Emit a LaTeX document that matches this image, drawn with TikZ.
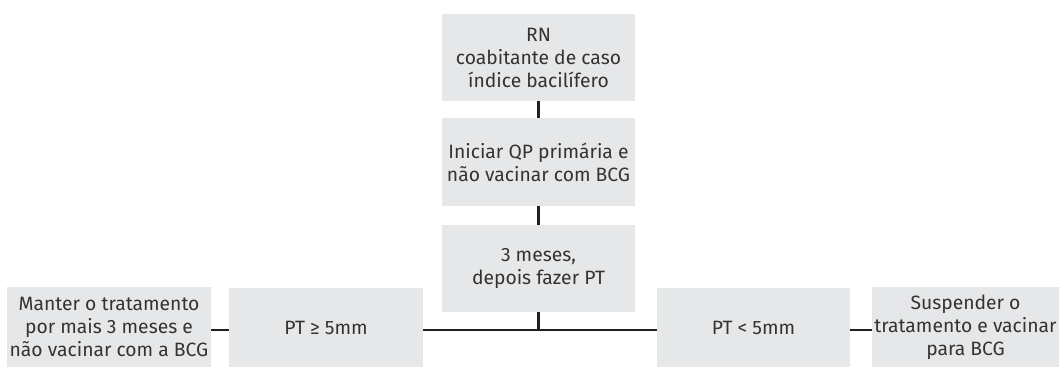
\documentclass[tikz,border=0pt]{standalone}
\usepackage{fontspec}
\setmainfont{Fira Sans}
\definecolor{boxgray}{HTML}{E6E7E8}
\definecolor{txtgray}{HTML}{333333}
\definecolor{linecol}{HTML}{231F20}
\begin{document}
\begin{tikzpicture}[x=1pt,y=1pt,
  box/.style={fill=boxgray,draw=none,align=center,text=txtgray,inner sep=0pt,
    font=\fontsize{19.3}{23}\selectfont},
  conn/.style={draw=linecol,line width=2.6pt}]
\useasboundingbox (0,0) rectangle (1059,367);
\node[box,minimum width=193,minimum height=87] (rn) at (538.5,309.5) {RN\\coabitante de caso\\índice bacilífero};
\node[box,minimum width=193,minimum height=88] (qp) at (538.5,205) {Iniciar QP primária e\\não vacinar com BCG};
\node[box,minimum width=193,minimum height=87] (tm) at (538.5,98.5) {3 meses,\\depois fazer PT};
\node[box,minimum width=194,minimum height=79] (ge) at (326,39.5) {PT ≥ 5mm};
\node[box,minimum width=204,minimum height=80] (mt) at (109,40) {Manter o tratamento\\por mais 3 meses e\\não vacinar com a BCG};
\node[box,minimum width=193,minimum height=79] (lt) at (753.5,39.5) {PT < 5mm};
\node[box,minimum width=187,minimum height=80] (sp) at (965.5,40) {Suspender o\\tratamento e vacinar\\para BCG};
\coordinate (j) at (538.5,37);
\draw[conn] (rn.south) -- (qp.north);
\draw[conn] (qp.south) -- (tm.north);
\draw[conn] (tm.south) -- (j);
\draw[conn] (ge.east |- j) -- (lt.west |- j);
\draw[conn] (mt.east |- j) -- (ge.west |- j);
\draw[conn] (lt.east |- j) -- (sp.west |- j);
\end{tikzpicture}
\end{document}
